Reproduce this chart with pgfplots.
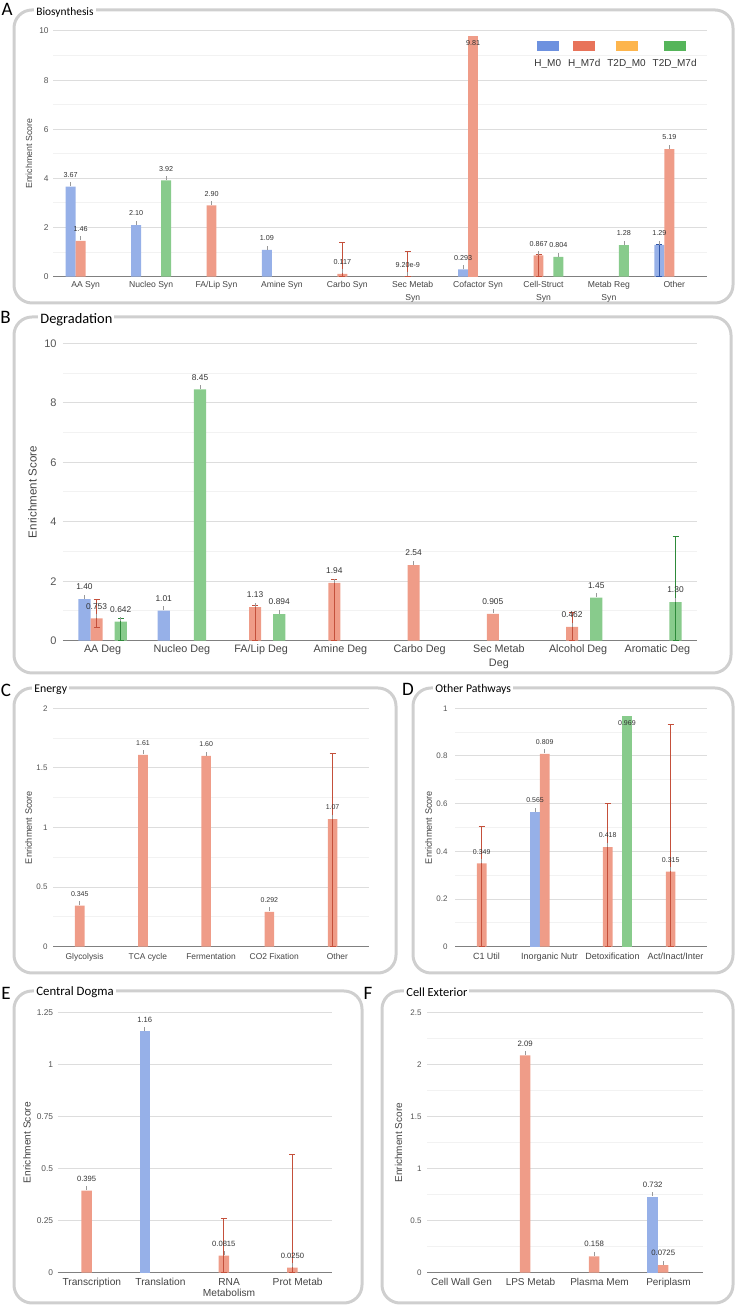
\documentclass[border=0pt]{standalone}
\usepackage{pgfplots}
\pgfplotsset{compat=1.18}
\usepackage{fontspec}
\setmainfont{Liberation Sans}
\newfontfamily\titlefont{Carlito}
\definecolor{hmz}{HTML}{6D91DF}
\definecolor{hms}{HTML}{E8735A}
\definecolor{tdz}{HTML}{FDB54D}
\definecolor{tds}{HTML}{55B55A}
\definecolor{hmzb}{HTML}{96B0E8}
\definecolor{hmsb}{HTML}{EF9C88}
\definecolor{tdsb}{HTML}{88CB8C}
\definecolor{errb}{HTML}{2F55A8}
\definecolor{errr}{HTML}{C4503B}
\definecolor{errg}{HTML}{2E8A3A}
\definecolor{gridc}{HTML}{DDDDDD}
\definecolor{gridm}{HTML}{F2F2F2}
\definecolor{axisc}{HTML}{808080}
\definecolor{boxc}{HTML}{CFCFCF}
\definecolor{tickc}{HTML}{555555}
\definecolor{catc}{HTML}{444444}
\definecolor{labc}{HTML}{333333}
\definecolor{stemc}{HTML}{999999}
\newcommand\fs[1]{\fontsize{#1}{#1}\selectfont}
\newcommand\fsl[2]{\fontsize{#1}{#2}\selectfont}
\newcommand\lbl[1]{\shortstack{#1\\[-0.6pt]{\color{stemc}\rule{0.3pt}{2pt}}}}
\def\oa{-0.2288}
\def\ob{-0.0763}
\def\od{+0.2288}
\pgfplotsset{
  panel/.style={
    scale only axis, clip=false, anchor=south west,
    axis x line*=bottom, axis y line*=left,
    x axis line style={draw=axisc, line width=0.7pt, -},
    y axis line style={draw=none},
    major tick length=0pt, minor tick length=0pt,
    xtick style={draw=none}, ytick style={draw=none}, minor tick style={draw=none},
    ymajorgrids, yminorgrids,
    major grid style={draw=gridc, line width=0.5pt},
    minor grid style={draw=gridm, line width=0.5pt},
    ymin=0,
    xticklabel style={align=center, text=catc, inner sep=0pt, yshift=-2pt},
    yticklabel style={text=tickc, inner sep=0pt, xshift=-2pt},
    ylabel={Enrichment Score},
    ylabel style={text=catc, anchor=center},
    /pgf/number format/assume math mode=true,
    every node near coord/.append style={text=labc, inner sep=0pt},
  },
  sbar/.style={ybar, bar width=0.1525, bar shift=0pt, draw=none, fill=#1,
    point meta=explicit symbolic, nodes near coords={\lbl{\pgfplotspointmeta}}},
  sin/.style={ybar, bar width=0.1525, bar shift=0pt, draw=none, fill=#1,
    point meta=explicit symbolic, nodes near coords={\pgfplotspointmeta},
    every node near coord/.append style={yshift=-5pt}},
  serr/.style={ybar, bar width=0.1525, bar shift=0pt, draw=none, fill=none, forget plot,
    error bars/.cd, y dir=both, y explicit,
    error bar style={draw=#1, line width=0.5pt},
    error mark options={draw=#1, rotate=90, mark size=1.5pt, line width=0.5pt}},
}
\begin{document}
\begin{tikzpicture}
\useasboundingbox (0,0) rectangle (368pt,652.5pt);
% boxes
\draw[boxc, line width=1.5pt, rounded corners=9pt] (7pt,501pt) rectangle (366.5pt,647.5pt);
\draw[boxc, line width=1.5pt, rounded corners=9pt] (7pt,316pt) rectangle (365.5pt,494pt);
\draw[boxc, line width=1.5pt, rounded corners=9pt] (7pt,166pt) rectangle (198pt,308.5pt);
\draw[boxc, line width=1.5pt, rounded corners=9pt] (206.5pt,166pt) rectangle (366.5pt,308.5pt);
\draw[boxc, line width=1.5pt, rounded corners=9pt] (7pt,1pt) rectangle (181pt,157pt);
\draw[boxc, line width=1.5pt, rounded corners=9pt] (191pt,1pt) rectangle (366.5pt,157pt);

% ---------------- A ----------------
\begin{axis}[panel, at={(26.5pt,514.15pt)}, width=327pt, height=122.85pt,
  xmin=-0.5, xmax=9.5, ymax=10, ytick={0,2,4,6,8,10}, minor ytick={1,3,5,7,9},
  xtick={0,...,9},
  xticklabels={AA Syn, Nucleo Syn, FA/Lip Syn, Amine Syn, Carbo Syn, {Sec Metab\\Syn}, Cofactor Syn, {Cell-Struct\\Syn}, {Metab Reg\\Syn}, Other},
  xticklabel style={font=\fsl{4.3}{6.5}},
  yticklabel style={font=\fs{4.2}},
  ylabel style={font=\fs{4.4}, at={(axis description cs:-0.0367,0.5)}},
  every node near coord/.append style={font=\fs{3.6}},
  legend columns=4,
  legend style={draw=none, fill=none, at={(0.9847,0.96)}, anchor=north east, inner sep=0pt,
    font=\fs{5}, text=labc, nodes={inner sep=0pt},
    /tikz/every even column/.append style={column sep=3.5pt}},
]
\addlegendimage{empty legend}\addlegendentry{\shortstack{{\color{hmz}\rule{11pt}{5pt}}\\[1.2pt]H\_M0}}
\addlegendimage{empty legend}\addlegendentry{\shortstack{{\color{hms}\rule{11pt}{5pt}}\\[1.2pt]H\_M7d}}
\addlegendimage{empty legend}\addlegendentry{\shortstack{{\color{tdz}\rule{11pt}{5pt}}\\[1.2pt]T2D\_M0}}
\addlegendimage{empty legend}\addlegendentry{\shortstack{{\color{tds}\rule{11pt}{5pt}}\\[1.2pt]T2D\_M7d}}
\addplot[sbar=hmzb] table[x expr=\thisrow{x}\oa,y=y,meta=l]{
x y l
0 3.67 3.67
1 2.10 2.10
3 1.09 1.09
6 0.293 0.293
9 1.29 1.29
};
\addplot[sbar=hmsb] table[x expr=\thisrow{x}\ob,y=y,meta=l]{
x y l
0 1.46 1.46
2 2.90 2.90
4 0.117 0.117
5 9.2e-9 9.20e-9
7 0.867 0.867
9 5.19 5.19
};
\addplot[sin=hmsb] table[x expr=\thisrow{x}\ob,y=y,meta=l]{
x y l
6 9.81 9.81
};
\addplot[sbar=tdsb] table[x expr=\thisrow{x}\od,y=y,meta=l]{
x y l
1 3.92 3.92
7 0.804 0.804
8 1.28 1.28
};
\addplot[serr=errb] table[x expr=\thisrow{x}\oa,y=y,y error plus=ep,y error minus=em]{
x y ep em
9 1.29 0.03 1.29
};
\addplot[serr=errr] table[x expr=\thisrow{x}\ob,y=y,y error plus=ep,y error minus=em]{
x y ep em
4 0.117 1.263 0.117
5 0 1.02 0
7 0.867 0.02 0.867
};
\end{axis}

% ---------------- B ----------------
\begin{axis}[panel, at={(31.5pt,332.15pt)}, width=317pt, height=148.7pt,
  xmin=-0.5, xmax=7.5, ymax=10, ytick={0,2,4,6,8,10}, minor ytick={1,3,5,7,9},
  xtick={0,...,7},
  xticklabels={AA Deg, Nucleo Deg, FA/Lip Deg, Amine Deg, Carbo Deg, {Sec Metab\\Deg}, Alcohol Deg, Aromatic Deg},
  xticklabel style={font=\fsl{5.4}{7}},
  yticklabel style={font=\fs{5.5}, xshift=-1pt},
  ylabel style={font=\fs{5.8}, at={(axis description cs:-0.048,0.5)}},
  every node near coord/.append style={font=\fs{4.2}},
]
\addplot[sbar=hmzb] table[x expr=\thisrow{x}\oa,y=y,meta=l]{
x y l
0 1.40 1.40
1 1.01 1.01
};
\addplot[sbar=hmsb] table[x expr=\thisrow{x}\ob,y=y,meta=l]{
x y l
0 0.753 0.753
2 1.13 1.13
3 1.94 1.94
4 2.54 2.54
5 0.905 0.905
6 0.462 0.462
};
\addplot[sbar=tdsb] table[x expr=\thisrow{x}\od,y=y,meta=l]{
x y l
0 0.642 0.642
1 8.45 8.45
2 0.894 0.894
6 1.45 1.45
7 1.30 1.30
};
\addplot[serr=errr] table[x expr=\thisrow{x}\ob,y=y,y error plus=ep,y error minus=em]{
x y ep em
0 0.753 0.617 0.3
2 1.13 0.07 1.13
3 1.94 0.12 1.94
6 0.462 0.48 0.462
};
\addplot[serr=errg] table[x expr=\thisrow{x}\od,y=y,y error plus=ep,y error minus=em]{
x y ep em
0 0.642 0.12 0.642
7 1.30 2.22 1.30
};
\end{axis}

% ---------------- C ----------------
\begin{axis}[panel, at={(26.5pt,179.15pt)}, width=158pt, height=119.2pt,
  xmin=-0.5, xmax=4.5, ymax=2, ytick={0,0.5,1,1.5,2}, minor ytick={0.25,0.75,1.25,1.75},
  xtick={0,...,4},
  xticklabels={Glycolysis, TCA cycle, Fermentation, CO2 Fixation, Other},
  xticklabel style={font=\fs{4.2}, yshift=-1pt},
  yticklabel style={font=\fs{4.0}, xshift=-0.5pt},
  ylabel style={font=\fs{4.6}, at={(axis description cs:-0.0775,0.5)}},
  every node near coord/.append style={font=\fs{3.5}},
]
\addplot[sbar=hmsb] table[x expr=\thisrow{x}\ob,y=y,meta=l]{
x y l
0 0.345 0.345
1 1.61 1.61
2 1.60 1.60
3 0.292 0.292
4 1.07 1.07
};
\addplot[serr=errr] table[x expr=\thisrow{x}\ob,y=y,y error plus=ep,y error minus=em]{
x y ep em
4 1.07 0.547 1.07
};
\end{axis}

% ---------------- D ----------------
\begin{axis}[panel, at={(227.5pt,179.15pt)}, width=126pt, height=119.2pt,
  xmin=-0.5, xmax=3.5, ymax=1, ytick={0,0.2,0.4,0.6,0.8,1}, minor ytick={0.1,0.3,0.5,0.7,0.9},
  xtick={0,...,3},
  xticklabels={C1 Util, Inorganic Nutr, Detoxification, Act/Inact/Inter},
  xticklabel style={font=\fs{4.5}, yshift=-1pt},
  yticklabel style={font=\fs{4.0}, xshift=-1.5pt},
  ylabel style={font=\fs{4.6}, at={(axis description cs:-0.105,0.5)}},
  every node near coord/.append style={font=\fs{3.5}},
]
\addplot[sbar=hmzb] table[x expr=\thisrow{x}\oa,y=y,meta=l]{
x y l
1 0.565 0.565
};
\addplot[sbar=hmsb] table[x expr=\thisrow{x}\ob,y=y,meta=l]{
x y l
0 0.349 0.349
1 0.809 0.809
2 0.418 0.418
3 0.315 0.315
};
\addplot[sin=tdsb] table[x expr=\thisrow{x}\od,y=y,meta=l]{
x y l
2 0.969 0.969
};
\addplot[serr=errr] table[x expr=\thisrow{x}\ob,y=y,y error plus=ep,y error minus=em]{
x y ep em
0 0.349 0.155 0.349
2 0.418 0.181 0.418
3 0.315 0.618 0.315
};
\end{axis}

% ---------------- E ----------------
\begin{axis}[panel, at={(28.75pt,16.15pt)}, width=137.25pt, height=130pt,
  xmin=-0.5, xmax=3.5, ymax=1.25, ytick={0,0.25,0.5,0.75,1,1.25}, minor ytick={},
  xtick={0,...,3},
  xticklabels={Transcription, Translation, {RNA\\Metabolism}, Prot Metab},
  xticklabel style={font=\fsl{5.1}{5.6}, yshift=-0.5pt},
  yticklabel style={font=\fs{4.2}},
  ylabel style={font=\fs{5.1}, at={(axis description cs:-0.111,0.5)}},
  every node near coord/.append style={font=\fs{3.8}},
]
\addplot[sbar=hmzb] table[x expr=\thisrow{x}\oa,y=y,meta=l]{
x y l
1 1.16 1.16
};
\addplot[sbar=hmsb] table[x expr=\thisrow{x}\ob,y=y,meta=l]{
x y l
0 0.395 0.395
2 0.0815 0.0815
3 0.0250 0.0250
};
\addplot[serr=errr] table[x expr=\thisrow{x}\ob,y=y,y error plus=ep,y error minus=em]{
x y ep em
2 0.0815 0.18 0.0815
3 0.025 0.541 0.025
};
\end{axis}

% ---------------- F ----------------
\begin{axis}[panel, at={(213.5pt,16.15pt)}, width=138pt, height=130pt,
  xmin=-0.5, xmax=3.5, ymax=2.5, ytick={0,0.5,1,1.5,2,2.5}, minor ytick={0.25,0.75,1.25,1.75,2.25},
  xtick={0,...,3},
  xticklabels={Cell Wall Gen, LPS Metab, Plasma Mem, Periplasm},
  xticklabel style={font=\fs{5.0}, yshift=-0.5pt},
  yticklabel style={font=\fs{4.0}, xshift=-0.5pt},
  ylabel style={font=\fs{5.0}, at={(axis description cs:-0.103,0.5)}},
  every node near coord/.append style={font=\fs{3.9}},
]
\addplot[sbar=hmzb] table[x expr=\thisrow{x}\oa,y=y,meta=l]{
x y l
3 0.732 0.732
};
\addplot[sbar=hmsb] table[x expr=\thisrow{x}\ob,y=y,meta=l]{
x y l
1 2.09 2.09
2 0.158 0.158
3 0.0725 0.0725
};
\end{axis}

% titles and letters
\node[anchor=west, fill=white, inner sep=1pt, font=\titlefont\fs{5.7}] at (17pt,646.5pt) {Biosynthesis};
\node[anchor=west, fill=white, inner sep=1pt, font=\titlefont\fs{7.2}] at (19pt,492.6pt) {Degradation};
\node[anchor=west, fill=white, inner sep=1pt, font=\titlefont\fs{5.9}] at (16pt,307.6pt) {Energy};
\node[anchor=west, fill=white, inner sep=1pt, font=\titlefont\fs{5.9}] at (216.5pt,307.6pt) {Other Pathways};
\node[anchor=west, fill=white, inner sep=1pt, font=\titlefont\fs{6.4}] at (17pt,156.5pt) {Central Dogma};
\node[anchor=west, fill=white, inner sep=1pt, font=\titlefont\fs{6.2}] at (202pt,156.5pt) {Cell Exterior};
\node[font=\titlefont\fs{9.5}] at (3.5pt,648pt) {A};
\node[font=\titlefont\fs{9.5}] at (2.8pt,494pt) {B};
\node[font=\titlefont\fs{9.5}] at (3pt,307.5pt) {C};
\node[font=\titlefont\fs{9.5}] at (204pt,308pt) {D};
\node[font=\titlefont\fs{9.5}] at (3pt,156pt) {E};
\node[font=\titlefont\fs{9.5}] at (184pt,156pt) {F};
\end{tikzpicture}
\end{document}
